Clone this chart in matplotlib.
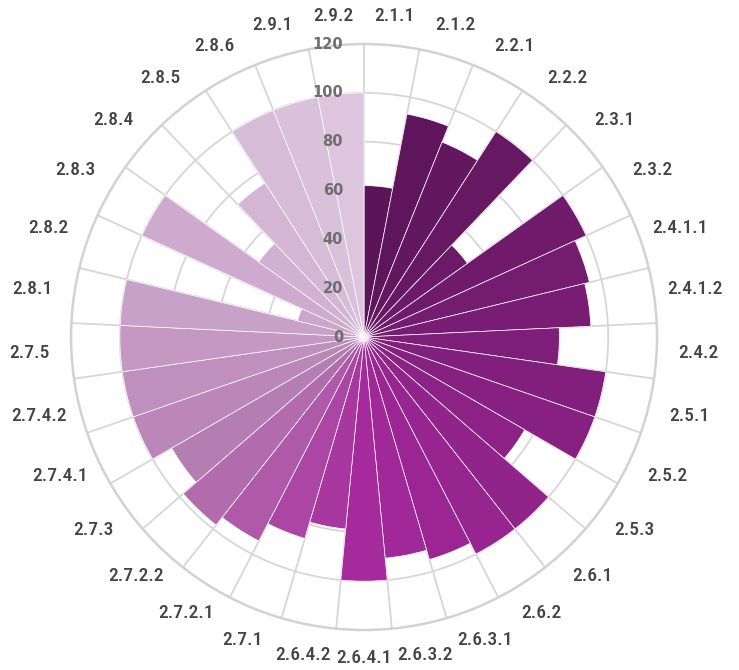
import numpy as np
import matplotlib
matplotlib.use("Agg")
import matplotlib.pyplot as plt
from matplotlib.colors import LinearSegmentedColormap
from matplotlib import font_manager

# categories, clockwise from the top
categories = ['2.1.1', '2.1.2', '2.2.1', '2.2.2', '2.3.1', '2.3.2', '2.4.1.1', '2.4.1.2',
              '2.4.2', '2.5.1', '2.5.2', '2.5.3', '2.6.1', '2.6.2', '2.6.3.1', '2.6.3.2',
              '2.6.4.1', '2.6.4.2', '2.7.1', '2.7.2.1', '2.7.2.2', '2.7.3', '2.7.4.1',
              '2.7.4.2', '2.7.5', '2.8.1', '2.8.2', '2.8.3', '2.8.4', '2.8.5', '2.8.6',
              '2.9.1', '2.9.2']
values = [62, 93, 86, 100, 52, 100, 95, 93,
          80, 100, 100, 76, 100, 100, 95, 91,
          100, 79, 86, 94, 98, 91, 100,
          100, 100, 100, 28, 100, 53, 75, 100,
          100, 100]
r_ticks = [0, 20, 40, 60, 80, 100, 120]

# narrowest installed family for the outer labels
names = {f.name for f in font_manager.fontManager.ttflist}
label_fams = [f for f in ['Roboto Condensed', 'Liberation Sans Narrow', 'Liberation Sans']
              if f in names] + ['DejaVu Sans']

# purple -> magenta -> pale lilac
cmap = LinearSegmentedColormap.from_list('purples', [
    (0.0, '#5a1457'), (8 / 32, '#7d1e78'), (16 / 32, '#a5299c'),
    (18 / 32, '#ab45a4'), (21 / 32, '#b57db2'), (25 / 32, '#c8a0c8'),
    (1.0, '#ddc6dd')])

n = len(categories)
width = 2 * np.pi / n
theta = np.arange(n) * width + width / 2
colors = [cmap(i / (n - 1)) for i in range(n)]

fig = plt.figure(figsize=(7.39, 6.70), dpi=100)
ax = fig.add_axes([0.0961, 0.0597, 0.793, 0.8746], projection='polar')
ax.set_theta_zero_location('N')
ax.set_theta_direction(-1)
ax.set_axisbelow(True)

ax.bar(theta, values, width=width, color=colors, edgecolor='white', linewidth=0.5, zorder=2)

ax.set_ylim(0, 120)
ax.set_yticks(r_ticks[1:-1])
ax.set_yticklabels([])
ax.set_xticks(np.arange(n) * width)
ax.set_xticklabels([])
ax.tick_params(length=0)
ax.grid(color='#d6d6d6', linewidth=1.3)
ax.spines['polar'].set_color('#d2d2d2')
ax.spines['polar'].set_linewidth(1.8)

# category labels around the outside
for t, lab in zip(theta, categories):
    r_lab = 131.5 + 5.7 * abs(np.sin(t))
    ax.text(t, r_lab, lab, ha='center', va='center', fontsize=14,
            family=label_fams, fontweight='medium',
            color='#444444', clip_on=False)

# radial scale along the top
for r in r_ticks:
    ax.annotate(str(r), xy=(0, r), xytext=(-21, 0), textcoords='offset pixels',
                ha='right', va='center', fontsize=10.5, fontweight='bold',
                color='#6e6e6e', zorder=5)

fig.savefig('out.png', dpi=100)
